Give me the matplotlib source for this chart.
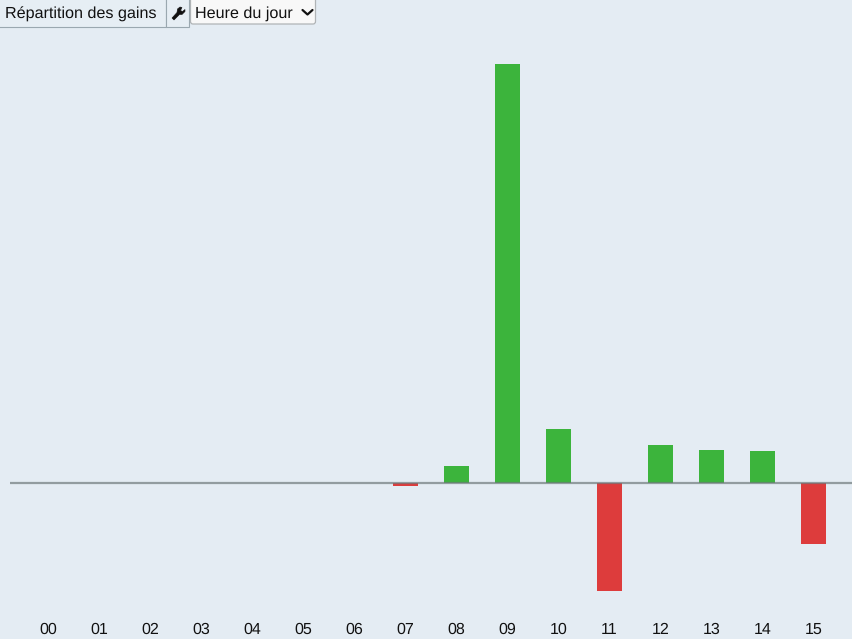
import matplotlib
matplotlib.use('Agg')
import matplotlib.pyplot as plt
from matplotlib.patches import FancyBboxPatch, Polygon, Rectangle

plt.rcParams['font.family'] = ['Liberation Sans', 'DejaVu Sans']
plt.rcParams['text.hinting'] = 'no_hinting'

hours = ['00', '01', '02', '03', '04', '05', '06', '07', '08', '09', '10', '11', '12', '13', '14', '15']
gains = [0, 0, 0, 0, 0, 0, 0, -3, 17, 419, 54, -108, 38, 33, 32, -61]

bg = '#e4ecf3'
green = '#3cb43c'
red = '#dd3c3c'
W, H = 852, 639

fig = plt.figure(figsize=(W / 100, H / 100), dpi=100, facecolor=bg)

# main chart, y units are pixels above the zero line
ax = fig.add_axes([10 / W, 0, 1 - 10 / W, 1], facecolor=bg)
step = (813.5 - 48) / 15
ax.set_xlim((10 - 48) / step, (W - 48) / step)
ax.set_ylim(-(H - 483), 483)
xs = list(range(len(hours)))
ax.bar(xs, gains, width=25 / step, color=[green if g > 0 else red for g in gains], zorder=2)
ax.axhline(0, color='#6f7a7c', alpha=0.7, lw=1.6, zorder=3)
for s in ax.spines.values():
    s.set_visible(False)
ax.set_yticks([])
ax.set_xticks([])
for x, label in zip(xs, hours):
    ax.text(x, -146.5, label, ha='center', va='center', fontsize=11.5, color='#111111')

# toolbar on top, in pixel coordinates
ui = fig.add_axes([0, 0, 1, 1], facecolor='none')
ui.set_xlim(0, W)
ui.set_ylim(H, 0)
ui.axis('off')

edge = '#9aa8b0'
ui.add_patch(Rectangle((-2, -2), 168, 29, fc='#e6eef4', ec=edge, lw=0.8))
ui.add_patch(Rectangle((166, -2), 23, 29, fc='#e6eef4', ec=edge, lw=0.8))
ui.text(5, 14, 'Répartition des gains', ha='left', va='center', fontsize=11.6, color='#111111')

# wrench icon
wrench = [(172, 18), (174, 20), (179.5, 14.5), (182, 14.5), (185, 11.5), (185, 9.5),
          (182.5, 11.5), (180.5, 10.5), (182, 7.5), (180, 7), (177.5, 9), (177, 12.5)]
ui.add_patch(Polygon(wrench, closed=True, fc='#111111', ec='#111111', lw=0.4))

# select box
ui.add_patch(FancyBboxPatch((190.5, -4), 125, 28, boxstyle='round,pad=0,rounding_size=2.5',
                            fc='#f8f8f8', ec='#b0b4b6', lw=0.9))
ui.text(195, 14, 'Heure du jour', ha='left', va='center', fontsize=11.6, color='#111111')
ui.plot([302.5, 307.5, 312.5], [10, 14.5, 10], color='#111111', lw=1.6, solid_capstyle='round')

fig.savefig('out.png', dpi=100, facecolor=bg)
